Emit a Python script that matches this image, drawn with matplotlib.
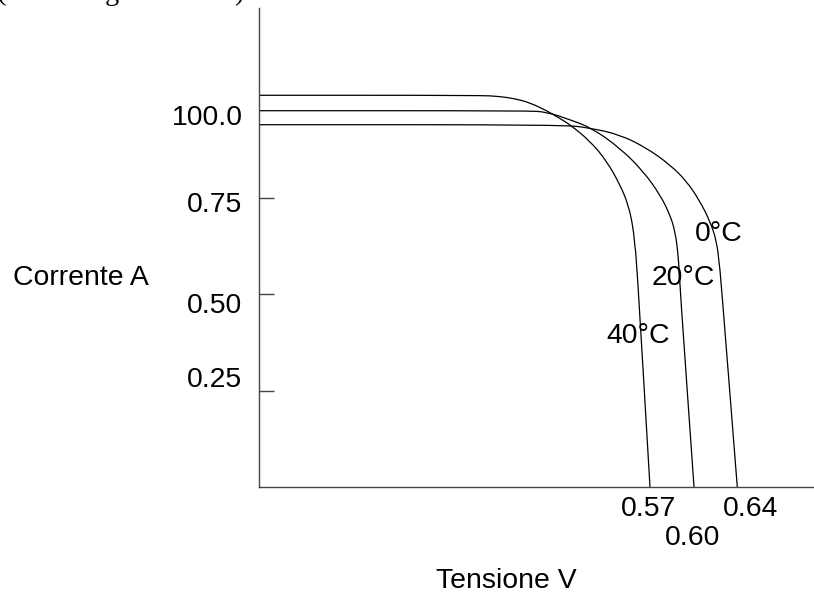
import matplotlib
matplotlib.use("Agg")
import matplotlib.pyplot as plt
from matplotlib.path import Path
from matplotlib.patches import PathPatch

plt.rcParams['font.family'] = ['Liberation Sans', 'DejaVu Sans']

# ---- data (schematic I-V curves; V in volts, I in A) ----
v_40 = [0.2547, 0.4329, 0.4490, 0.4611, 0.4732, 0.4867, 0.4974, 0.5055, 0.5216,
        0.5351, 0.5458, 0.5525, 0.5565, 0.5579, 0.5590, 0.5700]
i_40 = [1.0156, 1.0156, 1.0125, 1.0068, 0.9962, 0.9756, 0.9554, 0.9393, 0.8971,
        0.8452, 0.7838, 0.7319, 0.6715, 0.6197, 0.5990, 0.0000]

v_20 = [0.2547, 0.4706, 0.4867, 0.5055, 0.5230, 0.5458, 0.5646, 0.5781, 0.5861,
        0.5902, 0.5928, 0.5942, 0.6055]
i_20 = [0.9756, 0.9756, 0.9723, 0.9523, 0.9308, 0.8789, 0.8185, 0.7578, 0.7060,
        0.6630, 0.6023, 0.5159, 0.0000]

v_0 = [0.2547, 0.4998, 0.5216, 0.5458, 0.5673, 0.5861, 0.5996, 0.6103, 0.6184,
       0.6238, 0.6259, 0.6269, 0.6404]
i_0 = [0.9393, 0.9393, 0.9308, 0.9134, 0.8789, 0.8356, 0.7926, 0.7407, 0.6889,
       0.6370, 0.5764, 0.5497, 0.0000]

y_ticks = [0.25, 0.50, 0.75]
y_tick_labels = ['0.25', '0.50', '0.75', '100.0']
x_tick_labels = ['0.57', '0.60', '0.64']
curve_labels = ['0°C', '20°C', '40°C']
x_title = 'Tensione V'
y_title = 'Corrente A'

W, H = 814, 593
fig = plt.figure(figsize=(W / 100, H / 100), dpi=100)
ax = fig.add_axes([259 / W, 1 - 487 / H, (W - 259) / W, (487 - 8) / H])


def smooth_path(xs, ys):
    """Quadratic-Bezier path: read points act as control points (rounded corners)."""
    pts = list(zip(xs, ys))
    mid = lambda a, b: ((a[0] + b[0]) / 2, (a[1] + b[1]) / 2)
    verts = [pts[0], mid(pts[0], pts[1])]
    codes = [Path.MOVETO, Path.LINETO]
    for k in range(1, len(pts) - 1):
        verts += [pts[k], mid(pts[k], pts[k + 1])]
        codes += [Path.CURVE3, Path.CURVE3]
    verts.append(pts[-1])
    codes.append(Path.LINETO)
    return Path(verts, codes)


for v, i in [(v_40, i_40), (v_20, i_20), (v_0, i_0)]:
    ax.add_patch(PathPatch(smooth_path(v, i), fill=False, edgecolor='black',
                           lw=0.9, capstyle='butt'))

ax.set_xlim(0.25468, 0.70226)
ax.set_ylim(0, 1.2419)
for s in ['top', 'right']:
    ax.spines[s].set_visible(False)
for s in ['left', 'bottom']:
    ax.spines[s].set_color('#444444')
    ax.spines[s].set_linewidth(1.0)
ax.set_xticks([])
ax.set_yticks(y_ticks)
ax.tick_params(axis='y', direction='in', length=10.8, width=1.0, color='#444444',
               labelleft=False)

fs = 20.4


def px_text(x, y, s, ha='left', **kw):
    fig.text(x / W, 1 - y / H, s, ha=ha, va='baseline', fontsize=fs, color='black', **kw)


# y tick labels
px_text(243.3, 125.0, y_tick_labels[3], ha='right')
px_text(241.7, 212.3, y_tick_labels[2], ha='right')
px_text(241.7, 313.3, y_tick_labels[1], ha='right')
px_text(241.7, 386.7, y_tick_labels[0], ha='right')
# x tick labels
px_text(649.0, 516.0, x_tick_labels[0], ha='center')
px_text(692.5, 545.0, x_tick_labels[1], ha='center')
px_text(750.8, 516.0, x_tick_labels[2], ha='center')
# axis titles
px_text(12.7, 285.0, y_title, ha='left')
px_text(506.7, 588.0, x_title, ha='center')
# curve labels
px_text(695.0, 241.3, curve_labels[0])
px_text(651.7, 284.7, curve_labels[1])
px_text(606.7, 343.3, curve_labels[2])

# remnants of a caption line cut off by the top edge of the picture
for gx, ch in [(-3, '('), (105, 'g'), (234, ')')]:
    px_text(gx, 0.5, ch, family=['Liberation Serif', 'DejaVu Serif'])

fig.savefig('out.png', dpi=100)
